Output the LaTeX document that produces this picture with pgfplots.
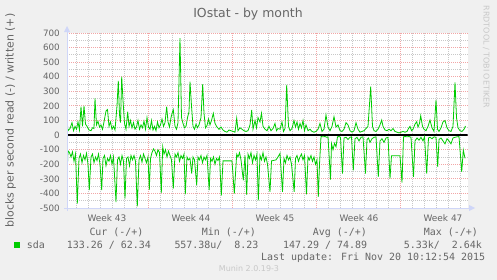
\documentclass[border=0pt]{standalone}
\usepackage{fontspec}
\setmainfont{DejaVu Sans}
\newfontfamily\monofont{DejaVu Sans Mono}
\usepackage{pgfplots}
\pgfplotsset{compat=1.18}
\usepackage{pgfplotstable}
\definecolor{bg}{HTML}{F0F0F0}
\definecolor{fontc}{HTML}{666666}
\definecolor{axisc}{HTML}{CFD6F8}
\definecolor{mgridc}{HTML}{F2A6A6}
\definecolor{gridc}{HTML}{C8C8C8}
\definecolor{lgreen}{HTML}{00CC00}
\definecolor{wmc}{HTML}{C8C8C8}

% x = time in 2-hour steps from the start of Week 44
\pgfplotstableread[row sep=\\]{
x y\\
-81 103\\ -80 30\\ -78 45\\ -76 85\\ -74.5 30\\ -73 60\\ -71.5 40\\ -70 90\\ -68.5 35\\ -67 195\\
-65.5 60\\ -64 200\\ -62.5 75\\ -61 60\\ -59 35\\ -57 30\\ -55.5 50\\ -54 45\\ -53 252\\ -51.5 70\\
-50 95\\ -48.5 55\\ -47 70\\ -45.5 40\\ -44 90\\ -42 165\\ -40.5 175\\ -39 60\\ -37.5 90\\ -36 40\\
-34.5 60\\ -33 35\\ -31 200\\ -29.7 372\\ -28.5 140\\ -27.5 85\\ -26.3 401\\ -25 240\\ -23.5 80\\ -22 40\\
-20.3 160\\ -19 60\\ -17.5 100\\ -16 50\\ -14.5 85\\ -13 40\\ -11.5 55\\ -10 100\\ -8.5 40\\ -7 70\\
-5.5 50\\ -4 95\\ -2.5 40\\ -1 120\\ 0.5 55\\ 2 40\\ 3.5 100\\ 5 35\\ 6.5 60\\ 8 30\\
9.5 90\\ 11 50\\ 12.5 70\\ 14 110\\ 15.5 60\\ 17 85\\ 18.7 195\\ 20 90\\ 21.5 55\\ 23 120\\
24.5 160\\ 25.3 175\\ 27 60\\ 28.5 40\\ 30 85\\ 32 665\\ 33.5 120\\ 35 80\\ 36.5 50\\ 38 60\\
39.5 120\\ 41 160\\ 42 367\\ 43.5 200\\ 45 60\\ 46.5 40\\ 48 75\\ 49.5 50\\ 51 70\\ 53 120\\
54.7 349\\ 56 150\\ 57.5 50\\ 59 65\\ 60.5 110\\ 62 70\\ 63.5 100\\ 65.3 149\\ 67 80\\ 69 55\\
71 40\\ 73 55\\ 75 35\\ 77 25\\ 79 20\\ 81 35\\ 83 30\\ 85 25\\ 87 20\\ 88.7 115\\
90 30\\ 92 50\\ 94 40\\ 96 30\\ 98 25\\ 100 30\\ 102 70\\ 103.7 172\\ 105 40\\ 107 100\\
108.5 50\\ 110 120\\ 112 90\\ 113.5 150\\ 115 60\\ 117 40\\ 119 30\\ 121 60\\ 123 30\\ 125 45\\
127 80\\ 128.5 30\\ 130 45\\ 132 40\\ 134 90\\ 135.5 25\\ 137 45\\ 138.7 344\\ 140.5 60\\ 142 30\\
144 45\\ 146 100\\ 147.5 55\\ 149 90\\ 150.5 40\\ 152 80\\ 153.5 50\\ 155 100\\ 156.5 30\\ 158 70\\
160 30\\ 162 40\\ 164 25\\ 166 20\\ 168 25\\ 170 40\\ 172 80\\ 174 25\\ 176 40\\ 178 138\\
180 55\\ 182 30\\ 184 60\\ 186 126\\ 188 55\\ 190 70\\ 192 30\\ 194 25\\ 196 40\\ 198 85\\
200 70\\ 202 30\\ 204 20\\ 206 30\\ 208 85\\ 210 40\\ 212 20\\ 214 25\\ 216 30\\ 218 45\\
220 60\\ 222.7 333\\ 224.5 60\\ 226 30\\ 228 25\\ 230 40\\ 232 70\\ 233.7 103\\ 235 60\\ 237 35\\
239 30\\ 241 40\\ 243 30\\ 245 45\\ 247 25\\ 249 20\\ 251 15\\ 253 20\\ 255 25\\ 257 20\\
259 25\\ 260.5 45\\ 262 60\\ 263.5 30\\ 265 40\\ 267 75\\ 268.7 92\\ 270 55\\ 271.5 80\\ 272.7 133\\
274.5 60\\ 276 40\\ 278 30\\ 280 60\\ 282 103\\ 284 50\\ 286 25\\ 288 241\\ 289.5 40\\ 291 25\\
293 50\\ 295 90\\ 297 100\\ 299 50\\ 301 30\\ 303 25\\ 305 60\\ 307 362\\ 308.5 120\\ 310 50\\
312 30\\ 314 25\\ 316 40\\ 317.5 62\\
}\written

\pgfplotstableread[row sep=\\]{
x y\\
-81 -287\\ -80 -108\\ -78.5 -120\\ -77 -150\\ -75.5 -115\\ -74 -180\\ -72.5 -130\\ -70.7 -470\\ -69 -160\\ -67.5 -130\\
-66 -190\\ -64.5 -140\\ -63 -170\\ -61.5 -125\\ -60 -200\\ -58.7 -378\\ -57 -150\\ -55.5 -130\\ -54 -190\\ -52.5 -150\\
-51 -175\\ -49.5 -130\\ -48 -200\\ -46.3 -378\\ -45 -160\\ -43.5 -140\\ -42 -210\\ -40.5 -160\\ -39 -180\\ -37.5 -140\\
-36 -200\\ -34.5 -150\\ -32 -459\\ -30.5 -170\\ -29 -150\\ -27.5 -200\\ -26 -140\\ -24.5 -180\\ -23 -436\\ -21.5 -160\\
-20 -150\\ -18.5 -210\\ -17 -140\\ -15.5 -170\\ -14 -140\\ -12.5 -180\\ -10.7 -489\\ -9 -170\\ -7.5 -140\\ -6 -185\\
-4.5 -130\\ -3 -160\\ -1.5 -190\\ 0 -150\\ 1.3 -375\\ 2.5 -160\\ 4 -120\\ 5.5 -95\\ 7 -110\\ 8.5 -140\\
10 -100\\ 11.5 -120\\ 13.3 -397\\ 14.7 -80\\ 16 -130\\ 17.5 -100\\ 19 -150\\ 20.5 -110\\ 22 -140\\ 23.5 -170\\
25.3 -367\\ 27 -130\\ 28.5 -150\\ 30 -120\\ 31.5 -180\\ 33 -140\\ 34.5 -160\\ 36 -130\\ 37.3 -406\\ 39 -150\\
40.5 -170\\ 42 -160\\ 43.7 -264\\ 45 -150\\ 46.5 -170\\ 48.7 -344\\ 50 -150\\ 51.5 -170\\ 53 -140\\ 54.5 -190\\
56 -150\\ 57.5 -170\\ 59 -140\\ 61.2 -378\\ 62.5 -160\\ 64 -180\\ 65.5 -150\\ 67 -200\\ 68.5 -160\\ 70 -175\\
71.5 -150\\ 73.3 -415\\ 75 -177\\ 84 -177\\ 86.3 -401\\ 88.7 -131\\ 90 -150\\ 91.5 -120\\ 93 -170\\ 95.3 -310\\
97 -140\\ 98.7 -410\\ 100 -130\\ 101.5 -160\\ 103 -120\\ 104.5 -190\\ 106 -140\\ 107.5 -170\\ 109 -130\\ 110.3 -447\\
112 -140\\ 113.5 -170\\ 115 -120\\ 116.5 -180\\ 118 -150\\ 119.5 -200\\ 122 -390\\ 123.5 -177\\ 128 -170\\ 130 -150\\
132 -126\\ 134.5 -390\\ 136 -160\\ 137.5 -190\\ 139 -140\\ 140.5 -170\\ 142 -150\\ 143.5 -200\\ 146.2 -390\\ 147.5 -160\\
149 -140\\ 150.5 -180\\ 152 -150\\ 153.5 -130\\ 155 -170\\ 156.5 -140\\ 158.5 -406\\ 160 -150\\ 161.5 -170\\ 163 -140\\
164.5 -180\\ 166 -150\\ 167.5 -200\\ 169 -170\\ 170.3 -424\\ 171.5 -200\\ 173 -10\\ 175 -12\\ 177 -10\\ 178.5 -15\\
180 -12\\ 182.5 -305\\ 183.5 -60\\ 185 -100\\ 186.5 -57\\ 188 -80\\ 189.5 -12\\ 191 -10\\ 192.5 -15\\ 194.5 -264\\
196 -20\\ 198 -15\\ 200 -30\\ 202 -15\\ 203.5 -12\\ 205.3 -241\\ 207 -25\\ 209 -15\\ 211 -40\\ 213 -15\\
215 -12\\ 217.5 -264\\ 219 -30\\ 220.5 -20\\ 222 -50\\ 224 -25\\ 226 -15\\ 228 -12\\ 230.3 -287\\ 232 -40\\
234 -25\\ 236 -50\\ 238 -20\\ 240 -15\\ 242 -298\\ 243.5 -142\\ 252 -142\\ 254 -326\\ 255.5 -12\\ 257 -10\\
259 -12\\ 261 -10\\ 263 -15\\ 265.5 -287\\ 267 -40\\ 269 -20\\ 271 -35\\ 273 -15\\ 275 -40\\ 276.5 -12\\
278.7 -264\\ 280.5 -20\\ 282 -15\\ 284 -25\\ 286 -12\\ 288 -15\\ 289.7 -218\\ 291 -30\\ 293 -20\\ 295 -40\\
297 -60\\ 299 -25\\ 301 -40\\ 303 -60\\ 305 -20\\ 307 -15\\ 309 -12\\ 311 -10\\ 313.7 -252\\ 315.3 -103\\
317 -160\\
}\readdata

\begin{document}
\begin{tikzpicture}
\useasboundingbox (0,0) rectangle (497bp,-280bp);
\fill[bg] (0,0) rectangle (497bp,-280bp);
\begin{axis}[
  at={(67bp,-208bp)}, anchor=south west,
  scale only axis, width=400.5bp, height=175bp,
  xmin=-81, xmax=319.5, ymin=-500, ymax=700,
  axis background/.style={fill=white},
  axis line style={draw=none},
  tick style={draw=none},
  major tick length=0pt, minor tick length=0pt,
  xtick={-41,43,127,211,295},
  xticklabels={Week 43,Week 44,Week 45,Week 46,Week 47},
  xticklabel style={anchor=north, inner sep=0pt, yshift=-6bp, font=\fontsize{9}{10}\selectfont, text=fontc},
  minor xtick={-72,-60,-48,-36,-24,-12,12,24,36,48,60,72,96,108,120,132,144,156,180,192,204,216,228,240,264,276,288,300,312},
  extra x ticks={0,84,168,252},
  extra x tick labels={},
  extra x tick style={grid=major},
  ytick={-500,-400,...,700},
  yticklabels={-500,-400,-300,-200,-100,0,100,200,300,400,500,600,700},
  yticklabel style={anchor=east, inner sep=0pt, xshift=-7bp, font=\fontsize{8.8}{10}\selectfont, text=fontc},
  minor ytick={-450,-350,...,650},
  ymajorgrids, xminorgrids, yminorgrids,
  major grid style={mgridc, line width=0.9bp, dash pattern=on 1bp off 1bp},
  minor grid style={gridc, line width=0.9bp, dash pattern=on 1bp off 1bp},
]
\draw[black, line width=1.4bp] (axis cs:-81,0) -- (axis cs:319.5,0);
\addplot[lgreen, line width=0.8bp, mark=none] table[x=x, y=y] {\written};
\addplot[lgreen, line width=0.8bp, mark=none] table[x=x, y=y] {\readdata};
\end{axis}
% axis lines with arrows
\draw[axisc, line width=1bp] (64bp,-208bp) -- (470bp,-208bp);
\fill[axisc] (469bp,-205bp) -- (475bp,-208bp) -- (469bp,-211bp) -- cycle;
\draw[axisc, line width=1bp] (67bp,-211bp) -- (67bp,-31bp);
\fill[axisc] (64bp,-32bp) -- (67bp,-26bp) -- (70bp,-32bp) -- cycle;
% titles
\node[anchor=base, inner sep=0pt, font=\fontsize{12.5}{14}\selectfont, text=fontc] at (248bp,-17.7bp) {IOstat - by month};
\node[rotate=90, inner sep=0pt, font=\fontsize{11}{12}\selectfont, text=fontc] at (10.5bp,-120.5bp) {blocks per second read (-) / written (+)};
\node[rotate=-90, inner sep=0pt, font=\fontsize{8}{9}\selectfont, text=wmc] at (486.3bp,-57bp) {RRDTOOL / TOBI OETIKER};
% legend
\begin{scope}[every node/.style={anchor=base west, inner sep=0pt, font=\monofont\fontsize{10}{11}\selectfont, text=fontc}]
\node at (89.3bp,-235.7bp) {Cur (-/+)};
\node at (201.7bp,-235.7bp) {Min (-/+)};
\node at (312.7bp,-235.7bp) {Avg (-/+)};
\node at (423.7bp,-235.7bp) {Max (-/+)};
\node at (26.7bp,-248.3bp) {sda};
\node at (66.7bp,-248.3bp) {133.26 / 62.34};
\node at (174.3bp,-248.3bp) {557.38u/\ \ 8.23};
\node at (283bp,-248.3bp) {147.29 / 74.89};
\node at (403.7bp,-248.3bp) {5.33k/\ \ 2.64k};
\node at (261bp,-260bp) {Last update: Fri Nov 20 10:12:54 2015};
\end{scope}
\fill[lgreen] (14bp,-241.7bp) rectangle (20bp,-247.7bp);
\node[anchor=base, inner sep=0pt, font=\fontsize{8}{9}\selectfont, text=wmc] at (249bp,-271.7bp) {Munin 2.0.19-3};
\end{tikzpicture}
\end{document}
